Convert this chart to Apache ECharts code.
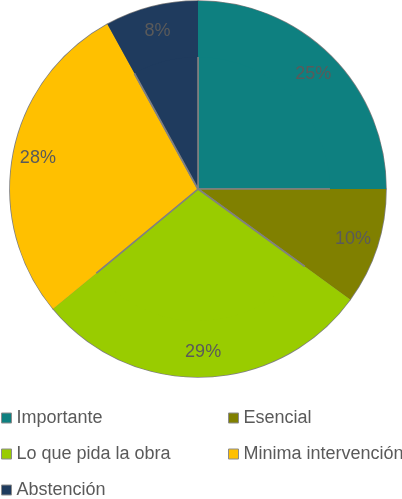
<!DOCTYPE html>
<html>
<head>
<meta charset="utf-8">
<style>
  html, body { margin: 0; padding: 0; background: #ffffff; }
  #chart { width: 402px; height: 499px; }
</style>
<script src="https://cdn.jsdelivr.net/npm/echarts@6/dist/echarts.min.js"></script>
</head>
<body>
<div id="chart"></div>
<script>
// Survey answers, share of responses (%)
const categories = ['Importante', 'Esencial', 'Lo que pida la obra', 'Minima intervención', 'Abstención'];
const values = [25, 10, 29, 28, 8];
const colors = ['#0e8080', '#808000', '#99cc00', '#ffc000', '#1f3b5e'];

const leftColumn = ['Importante', 'Lo que pida la obra', 'Abstención'];
const rightColumn = ['Esencial', 'Minima intervención'];

const data = categories.map((name, i) => ({
  name: name,
  value: values[i],
  itemStyle: { color: colors[i] }
}));

const textGray = '#5a5a5a';
const font = 'Liberation Sans, Arial, sans-serif';
const center = [198, 189];

const legendBase = {
  orient: 'vertical',
  top: 408,
  height: 120,
  padding: 0,
  itemGap: 16,
  itemWidth: 10,
  itemHeight: 10,
  icon: 'rect',
  selectedMode: false,
  itemStyle: { borderColor: '#8c8c8c', borderWidth: 1 },
  textStyle: { color: textGray, fontSize: 18, fontFamily: font, lineHeight: 20, padding: [0, 0, 0, 0] }
};

const chart = echarts.init(document.getElementById('chart'), null, { renderer: 'canvas' });
chart.setOption({
  animation: false,
  color: colors,
  legend: [
    Object.assign({}, legendBase, { left: 1, data: leftColumn }),
    Object.assign({}, legendBase, { left: 228, data: rightColumn })
  ],
  series: [
    {
      // Slices with thin gray outlines
      type: 'pie',
      center: center,
      radius: [0, 188],
      startAngle: 90,
      clockwise: true,
      silent: true,
      data: data,
      itemStyle: {
        borderColor: '#808080',
        borderWidth: 1.6,
        borderJoin: 'round'
      },
      label: { show: false },
      labelLine: { show: false }
    },
    {
      // Percentage labels placed near the outer rim
      type: 'pie',
      center: center,
      radius: [132, 188],
      startAngle: 90,
      clockwise: true,
      silent: true,
      data: data,
      itemStyle: { color: 'rgba(0,0,0,0)', borderWidth: 0 },
      label: {
        show: true,
        position: 'inside',
        formatter: '{c}%',
        color: textGray,
        fontSize: 18,
        fontFamily: font
      },
      labelLine: { show: false }
    }
  ]
});
</script>
</body>
</html>
